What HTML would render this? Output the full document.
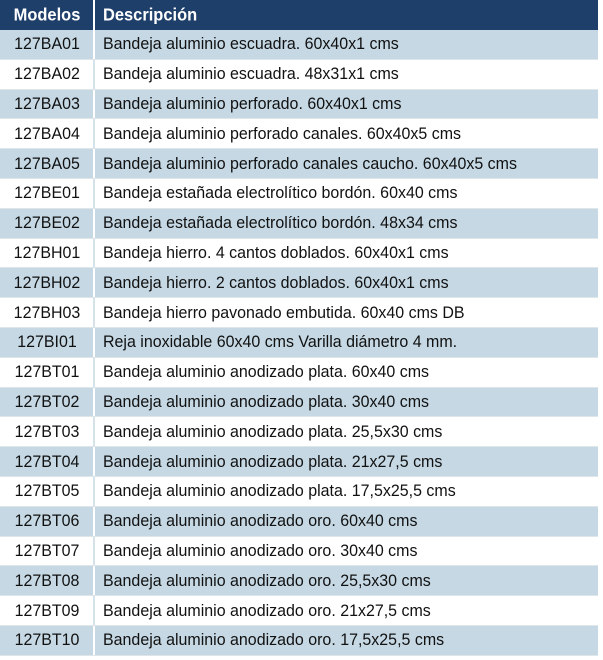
<!DOCTYPE html>
<html><head><meta charset="utf-8"><style>
body{margin:0;width:603px;height:660px;background:#fff;overflow:hidden;font-family:"Liberation Sans",sans-serif;}
.r{position:absolute;left:0;width:598px;height:29.8px;border-bottom:1px solid #dfe6ea;box-sizing:border-box;}
.b{background:#c5d8e4;}
.w{background:#fff;}
.h{background:#1f3f6b;color:#fff;font-weight:bold;top:0;height:30px;border:none}
.c1{position:absolute;left:0;width:95px;top:0;bottom:0;border-right:2px solid #fff;box-sizing:border-box;}
.w .c1{border-right:2px solid #d6e2ea}
.t{position:absolute;top:50%;white-space:nowrap;font-size:17px;color:#111;transform-origin:left center;}
.c1 .t{left:50%;transform:translate(-50%,-50%) scaleX(0.94);transform-origin:center}
.d{left:103px;transform:translateY(-50%) scaleX(0.94);}
.h .t{color:#fff;font-size:17.5px}
</style></head><body>
<div class="r h"><div class="c1" style="border-right-color:#fff"><span class="t">Modelos</span></div><span class="t d">Descripción</span></div>
<div id="rows"></div>
<script>
var d=[["127BA01","Bandeja aluminio escuadra. 60x40x1 cms"],["127BA02","Bandeja aluminio escuadra. 48x31x1 cms"],["127BA03","Bandeja aluminio perforado. 60x40x1 cms"],["127BA04","Bandeja aluminio perforado canales. 60x40x5 cms"],["127BA05","Bandeja aluminio perforado canales caucho. 60x40x5 cms"],["127BE01","Bandeja estañada electrolítico bordón. 60x40 cms"],["127BE02","Bandeja estañada electrolítico bordón. 48x34 cms"],["127BH01","Bandeja hierro. 4 cantos doblados. 60x40x1 cms"],["127BH02","Bandeja hierro. 2 cantos doblados. 60x40x1 cms"],["127BH03","Bandeja hierro pavonado embutida. 60x40 cms DB"],["127BI01","Reja inoxidable 60x40 cms Varilla diámetro 4 mm."],["127BT01","Bandeja aluminio anodizado plata. 60x40 cms"],["127BT02","Bandeja aluminio anodizado plata. 30x40 cms"],["127BT03","Bandeja aluminio anodizado plata. 25,5x30 cms"],["127BT04","Bandeja aluminio anodizado plata. 21x27,5 cms"],["127BT05","Bandeja aluminio anodizado plata. 17,5x25,5 cms"],["127BT06","Bandeja aluminio anodizado oro. 60x40 cms"],["127BT07","Bandeja aluminio anodizado oro. 30x40 cms"],["127BT08","Bandeja aluminio anodizado oro. 25,5x30 cms"],["127BT09","Bandeja aluminio anodizado oro. 21x27,5 cms"],["127BT10","Bandeja aluminio anodizado oro. 17,5x25,5 cms"]];
var h="";d.forEach(function(x,i){h+='<div class="r '+(i%2?'w':'b')+'" style="top:'+(30+i*29.8)+'px"><div class="c1"><span class="t">'+x[0]+'</span></div><span class="t d">'+x[1]+'</span></div>';});
document.getElementById("rows").innerHTML=h;
</script>
</body></html>
